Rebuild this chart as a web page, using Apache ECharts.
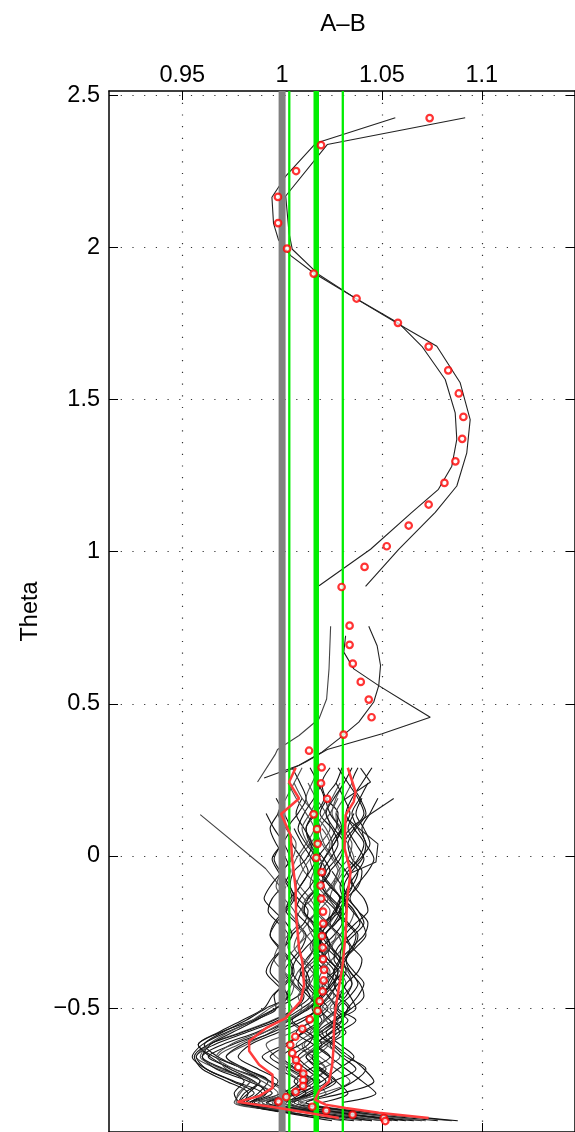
<!DOCTYPE html>
<html><head><meta charset="utf-8">
<script src="https://cdn.jsdelivr.net/npm/echarts@6/dist/echarts.min.js"></script>
<style>html,body{margin:0;padding:0;background:#fff}#c{width:575px;height:1132px}</style>
</head><body><div id="c"></div>
<script>
// ---- axes ----
const xTicks = [0.95, 1, 1.05, 1.1];
const yTicks = [-0.5, 0, 0.5, 1, 1.5, 2, 2.5];
const xRange = [0.9133, 1.1467];
const yRange = [-0.907, 2.514];

// ---- reference lines ----
const refLineX = 1.0;
const greenThinX = [1.0036, 1.0304];
const greenThickX = 1.0171;

// ---- red circles ----
const circleX = [1.0739,1.0195,1.0070,0.9979,0.9980,1.0025,1.0158,1.0373,1.0580,1.0734,
  1.0832,1.0885,1.0908,1.0902,1.0868,1.0813,1.0734,1.0634,1.0524,1.0413,
  1.0298,1.0338,1.0338,1.0354,1.0394,1.0434,1.0448,1.0308,1.0135,1.0198,
  1.0195,1.0226,1.0158,1.0175,1.0178,1.0171,1.0198,1.0193,1.0196,1.0205,
  1.0206,1.0200,1.0203,1.0205,1.0210,1.0208,1.0203,1.0188,1.0178,1.0138,
  1.0101,1.0066,1.0041,1.0051,1.0070,1.0081,1.0106,1.0106,1.0105,1.0068,
  1.0021,0.9982,1.0151,1.0221,1.0353,1.0509,1.0517];
const circleTheta = [2.425,2.336,2.251,2.166,2.080,1.996,1.914,1.832,1.752,1.674,
  1.596,1.520,1.443,1.371,1.297,1.226,1.155,1.086,1.018,0.950,
  0.884,0.757,0.694,0.632,0.572,0.514,0.456,0.399,0.346,0.291,
  0.239,0.188,0.137,0.088,0.040,-0.006,-0.053,-0.097,-0.140,-0.183,
  -0.222,-0.263,-0.301,-0.339,-0.374,-0.409,-0.445,-0.477,-0.509,-0.537,
  -0.568,-0.594,-0.621,-0.648,-0.671,-0.694,-0.715,-0.737,-0.756,-0.775,
  -0.792,-0.807,-0.824,-0.837,-0.850,-0.861,-0.871];

// ---- red envelope lines ----
const redLeftX = [1.0068,1.0035,1.0085,0.9995,1.0043,1.0050,1.0068,1.0070,1.0085,1.0101,1.0110,1.0093,1.0018,0.9919,0.9835,0.9835,0.9885,0.9952,0.9952,0.9885,0.9777,0.9985,1.0284];
const redLeftTheta = [0.290,0.243,0.189,0.138,0.068,-0.008,-0.107,-0.195,-0.303,-0.346,-0.424,-0.477,-0.533,-0.566,-0.608,-0.641,-0.686,-0.719,-0.762,-0.789,-0.808,-0.828,-0.861];
const redRightX = [1.0329,1.0368,1.0359,1.0318,1.0313,1.0343,1.0326,1.0318,1.0301,1.0284,1.0268,1.0259,1.0259,1.0251,1.0235,1.0185,1.0165,1.0218,1.0318,1.0484,1.0734];
const redRightTheta = [0.290,0.211,0.179,0.134,0.025,-0.052,-0.139,-0.260,-0.369,-0.434,-0.500,-0.566,-0.620,-0.686,-0.741,-0.773,-0.801,-0.817,-0.828,-0.844,-0.861];

// ---- upper / middle black traces: [A-B, Theta] ----
const upperTrace1 = [[1.0567,2.426],[1.0168,2.342],[1.0018,2.234],[0.9949,2.165],[0.9957,2.079],[0.9982,2.025],[1.0043,1.973],[1.0160,1.915],[1.0368,1.833],[1.0584,1.751],[1.0700,1.675],[1.0817,1.566],[1.0867,1.456],[1.0875,1.369],[1.0850,1.281],[1.0783,1.205],[1.0650,1.129],[1.0443,1.008],[1.0185,0.888]];
const upperTrace2 = [[1.0917,2.426],[1.0226,2.338],[1.0018,2.169],[1.0035,2.046],[1.0051,1.994],[1.0185,1.910],[1.0384,1.826],[1.0617,1.735],[1.0775,1.675],[1.0892,1.555],[1.0942,1.434],[1.0925,1.325],[1.0875,1.216],[1.0767,1.129],[1.0584,1.008],[1.0418,0.886]];
const midTrace1 = [[1.0243,0.755],[1.0235,0.615],[1.0223,0.516],[1.0185,0.451],[1.0085,0.396],[0.9977,0.350],[0.9965,0.333],[0.9877,0.243]];
const midTrace2 = [[1.0434,0.755],[1.0476,0.691],[1.0493,0.626],[1.0484,0.560],[1.0459,0.506],[1.0384,0.440],[1.0284,0.385],[1.0201,0.342],[1.0085,0.298],[0.9910,0.256]];
const midTrace3 = [[1.0318,0.724],[1.0309,0.670],[1.0359,0.615],[1.0484,0.560],[1.0617,0.506],[1.0742,0.456],[1.0501,0.402],[1.0226,0.350],[1.0118,0.309],[1.0000,0.270]];
const strayTrace1 = [[0.9590,0.136],[0.9917,-0.041],[0.9990,-0.100]];
const strayTrace2 = [[1.0559,0.189],[1.0359,0.101],[1.0300,0.060]];
const strayTrace3 = [[1.0330,0.120],[1.0480,0.040],[1.0470,-0.020],[1.0330,-0.060]];
const strayTrace4 = [[1.0393,0.289],[1.0443,0.243],[1.0300,0.180]];

// ---- dense traces, sampled at meshTheta ----
const meshTheta = [0.29,0.24,0.19,0.14,0.09,0.04,-0.01,-0.05,-0.10,-0.14,-0.18,-0.22,-0.26,-0.30,-0.34,-0.38,-0.42,-0.46,-0.50,-0.54,-0.58,-0.62,-0.66,-0.70,-0.74,-0.78,-0.81,-0.84,-0.87];
const meshTraces = [
[1.024,1.020,1.022,1.028,1.027,1.023,1.018,1.019,1.025,1.029,1.027,1.022,1.017,1.016,1.021,1.026,1.024,1.019,1.013,1.004,0.991,0.975,0.963,0.976,0.989,0.983,0.978,1.020,1.062],
[null,1.031,1.027,1.025,1.030,1.035,1.033,1.028,1.026,1.030,1.036,1.034,1.029,1.025,1.028,1.033,1.035,1.030,1.024,1.028,1.021,1.010,1.014,1.022,1.013,1.005,1.010,1.040,1.085],
[null,null,1.010,1.007,1.011,1.015,1.012,1.006,1.004,1.008,1.013,1.011,1.005,1.003,1.007,1.012,1.014,1.008,0.997,0.985,0.969,0.958,0.966,0.981,0.993,0.988,0.982,1.005,null],
[1.038,1.035,1.039,1.042,1.037,1.033,1.035,1.040,1.038,1.032,1.029,1.033,1.038,1.036,1.031,1.030,1.026,1.029,1.034,1.027,1.020,1.026,1.034,1.041,1.046,1.030,1.012,1.035,1.070],
[null,1.006,1.010,1.016,1.019,1.014,1.009,1.011,1.017,1.015,1.009,1.007,1.012,1.016,1.013,1.008,1.005,1.002,1.005,0.995,0.979,0.963,0.957,0.968,0.984,0.979,0.976,1.002,1.030],
[null,null,null,1.027,1.030,1.026,1.021,1.019,1.024,1.030,1.032,1.027,1.022,1.025,1.029,1.026,1.020,1.023,1.027,1.021,1.017,1.013,1.005,1.012,1.019,1.008,0.996,null,null],
[1.014,1.018,1.021,1.017,1.012,1.014,1.019,1.022,1.018,1.013,1.011,1.015,1.020,1.017,1.012,1.009,1.013,1.017,1.010,1.000,0.987,0.970,0.960,0.967,0.983,0.995,0.985,1.015,1.050],
[null,1.035,1.031,1.027,1.028,1.033,1.036,1.031,1.026,1.024,1.028,1.032,1.029,1.023,1.024,1.029,1.032,1.027,1.020,1.022,1.027,1.018,1.010,1.004,1.012,1.002,0.993,1.012,null],
[null,null,0.997,1.001,1.004,1.000,0.995,0.998,1.003,1.005,1.001,0.996,0.994,0.999,1.004,1.006,1.002,0.996,0.997,0.986,0.972,0.960,0.955,0.962,0.976,0.990,0.980,0.998,null],
[1.030,1.027,1.022,1.024,1.029,1.031,1.027,1.022,1.020,1.025,1.030,1.027,1.021,1.019,1.023,1.028,1.026,1.021,1.016,1.020,1.011,1.001,0.990,0.998,1.008,1.000,0.986,1.030,1.078],
[null,1.013,1.017,1.022,1.024,1.019,1.014,1.016,1.021,1.023,1.018,1.013,1.015,1.020,1.022,1.017,1.012,1.014,1.019,1.021,1.015,1.007,1.016,1.022,1.015,1.006,1.000,1.024,1.055],
[null,null,1.040,1.037,1.041,1.044,1.039,1.034,1.036,1.041,1.043,1.037,1.032,1.035,1.040,1.038,1.032,1.029,1.026,1.030,1.024,1.016,1.008,1.014,1.022,1.012,1.004,null,null],
[1.005,1.009,1.012,1.008,1.003,1.005,1.010,1.013,1.009,1.004,1.002,1.007,1.012,1.010,1.005,1.001,1.006,1.011,1.007,0.998,0.982,0.966,0.957,0.962,0.975,0.986,0.979,1.000,1.036],
[null,null,null,null,1.020,1.024,1.021,1.016,1.014,1.019,1.024,1.022,1.017,1.014,1.018,1.023,1.021,1.015,1.018,1.012,1.017,1.023,1.016,1.009,1.016,1.022,1.009,1.033,null],
[null,1.027,1.031,1.034,1.030,1.025,1.027,1.032,1.035,1.031,1.026,1.024,1.029,1.034,1.032,1.027,1.023,1.027,1.033,1.027,1.019,1.009,1.000,1.007,1.016,1.005,0.992,1.022,1.066],
[null,null,1.001,0.998,0.994,0.997,1.002,1.004,1.000,0.995,0.993,0.998,1.003,1.001,0.996,0.994,0.999,1.003,0.992,0.982,0.970,0.961,0.968,0.980,0.989,0.981,0.978,null,null],
[1.019,1.015,1.012,1.016,1.022,1.025,1.021,1.016,1.018,1.023,1.027,1.024,1.018,1.015,1.019,1.024,1.022,1.017,1.021,1.028,1.018,1.011,1.019,1.027,1.034,1.020,1.008,1.018,null],
[null,null,null,1.036,1.033,1.037,1.041,1.038,1.033,1.031,1.035,1.040,1.042,1.037,1.032,1.034,1.039,1.041,1.035,1.026,1.032,1.024,1.030,1.037,1.026,1.016,1.006,1.040,1.088],
[null,1.020,1.016,1.011,1.008,1.012,1.017,1.014,1.009,1.006,1.010,1.015,1.017,1.012,1.007,1.005,1.009,1.014,1.007,0.996,0.980,0.963,0.956,0.960,0.972,0.983,0.981,1.010,null],
[null,null,1.028,1.024,1.019,1.021,1.026,1.029,1.025,1.019,1.017,1.022,1.028,1.030,1.025,1.020,1.018,1.023,1.028,1.022,1.014,1.022,1.029,1.020,1.011,1.003,0.995,1.015,1.045],
[null,null,null,null,null,1.000,0.996,0.999,1.004,1.006,1.002,0.997,0.994,0.998,1.003,1.005,1.001,0.995,0.991,0.980,0.968,0.958,0.964,0.974,0.986,0.992,0.983,null,null],
[1.045,1.040,1.035,1.032,1.036,1.041,1.038,1.033,1.029,1.031,1.036,1.039,1.034,1.028,1.026,1.031,1.035,1.032,1.027,1.033,1.025,1.017,1.024,1.032,1.040,1.047,1.030,null,null],
[null,1.003,1.007,1.012,1.016,1.012,1.007,1.005,1.009,1.014,1.017,1.013,1.008,1.006,1.011,1.016,1.014,1.008,1.010,1.002,0.991,0.978,0.968,0.972,0.985,0.995,0.988,1.028,1.072],
[null,null,null,1.016,1.012,1.015,1.021,1.024,1.019,1.013,1.011,1.016,1.022,1.024,1.019,1.013,1.012,1.017,1.023,1.016,1.007,1.016,1.024,1.014,1.006,1.012,1.004,1.020,null],
[null,null,1.048,1.044,1.040,1.042,1.046,1.043,1.037,1.034,1.038,1.043,1.041,1.035,1.032,1.036,1.041,1.038,1.033,1.030,1.022,1.029,1.036,1.028,1.020,1.010,1.002,null,null],
[1.010,1.006,1.002,0.998,1.002,1.007,1.005,1.000,0.997,1.001,1.006,1.008,1.003,0.998,0.996,1.001,1.006,1.004,0.994,0.985,0.973,0.963,0.959,0.970,0.984,0.978,0.977,1.008,1.040],
[null,null,null,null,1.030,1.026,1.021,1.019,1.024,1.029,1.027,1.021,1.018,1.022,1.028,1.030,1.025,1.019,1.014,1.005,1.013,1.020,1.012,1.020,1.027,1.016,1.001,1.026,1.058],
[null,1.043,1.039,1.035,1.038,1.042,1.040,1.035,1.031,1.033,1.038,1.041,1.036,1.030,1.029,1.034,1.038,1.034,1.028,1.037,1.028,1.020,1.012,1.018,1.025,1.014,1.005,null,null],
[null,null,1.018,1.014,1.010,1.013,1.019,1.022,1.018,1.012,1.010,1.015,1.021,1.023,1.017,1.011,1.014,1.020,1.012,1.003,0.994,0.982,0.972,0.980,0.993,1.001,0.990,1.017,null],
[null,null,null,0.992,0.996,1.001,1.004,1.000,0.994,0.991,0.996,1.002,1.005,1.001,0.995,0.992,0.997,1.003,0.997,0.987,0.975,0.964,0.960,0.971,0.981,0.976,0.979,0.999,1.025],
[1.028,1.033,1.038,1.041,1.036,1.031,1.033,1.038,1.035,1.029,1.027,1.032,1.037,1.035,1.029,1.026,1.030,1.034,1.037,1.026,1.018,1.025,1.032,1.042,1.036,1.024,1.012,1.036,null],
[null,null,null,null,null,null,1.014,1.010,1.007,1.011,1.016,1.018,1.013,1.008,1.010,1.015,1.019,1.016,1.012,1.004,1.011,1.018,1.010,1.002,1.010,1.018,1.003,1.022,1.050],
[null,null,1.023,1.019,1.025,1.028,1.024,1.020,1.016,1.021,1.027,1.030,1.026,1.020,1.017,1.022,1.027,1.024,1.018,1.011,0.998,0.984,0.978,0.988,0.998,0.992,0.984,1.012,1.045],
[null,null,null,null,null,null,null,1.025,1.030,1.033,1.029,1.023,1.020,1.024,1.030,1.032,1.028,1.023,1.019,1.024,1.029,1.022,1.015,1.019,1.027,1.033,1.020,null,null],
[null,1.029,1.025,1.021,1.017,1.020,1.025,1.028,1.024,1.020,1.018,1.023,1.027,1.024,1.019,1.016,1.021,1.026,1.022,1.015,1.005,0.992,0.997,1.006,1.014,1.004,0.990,1.008,null],
[null,null,null,null,1.006,1.010,1.015,1.018,1.014,1.009,1.007,1.012,1.017,1.020,1.015,1.010,1.008,1.013,1.018,1.008,0.995,0.980,0.972,0.982,0.994,1.003,0.992,null,null],
[1.035,1.031,1.026,1.022,1.026,1.031,1.029,1.024,1.020,1.024,1.029,1.026,1.021,1.018,1.023,1.028,1.025,1.020,1.015,1.018,1.010,1.003,0.994,1.004,1.013,1.006,0.996,1.018,null],
[null,null,null,null,null,null,null,null,1.002,0.999,1.003,1.008,1.011,1.007,1.002,1.000,1.005,1.010,1.007,0.999,0.988,0.974,0.967,0.976,0.990,0.998,0.988,null,null]
];

// ---- build ----
const FONT = '"Liberation Sans", Arial, Helvetica, sans-serif';
const FS = 23.5;
const fmt = v => (v < 0 ? '\u2212' : '') + String(Math.abs(v));
const pairs = (xs, ts) => xs.map((x, i) => [x, ts[i]]);
const vline = x => [[x, yRange[0]], [x, yRange[1]]];

const series = [];
meshTraces.forEach((row, k) => {
  const d = [];
  row.forEach((x, i) => { if (x !== null) d.push([x, meshTheta[i]]); });
  series.push({type: 'line', data: d, symbol: 'none', silent: true, z: 2, smooth: 0.3,
    lineStyle: {color: (k % 3 === 1) ? '#505050' : '#141414', width: 1.1}});
});
[upperTrace1, upperTrace2, midTrace1, midTrace2, midTrace3, strayTrace1, strayTrace2, strayTrace3, strayTrace4].forEach((t, k) => {
  series.push({type: 'line', data: t, symbol: 'none', silent: true, z: 2,
    lineStyle: {color: (k === 5 || k === 2) ? '#444' : '#222', width: 1.1}});
});
series.push({type: 'line', data: vline(refLineX), symbol: 'none', silent: true, z: 3,
  lineStyle: {color: '#808080', width: 7}});
greenThinX.forEach(x => series.push({type: 'line', data: vline(x), symbol: 'none', silent: true, z: 3,
  lineStyle: {color: '#00ee00', width: 2.3}}));
series.push({type: 'line', data: vline(greenThickX), symbol: 'none', silent: true, z: 3,
  lineStyle: {color: '#00ee00', width: 5.5}});
series.push({type: 'line', data: pairs(redLeftX, redLeftTheta), symbol: 'none', silent: true, z: 4,
  lineStyle: {color: '#ff3c3c', width: 2.5}});
series.push({type: 'line', data: pairs(redRightX, redRightTheta), symbol: 'none', silent: true, z: 4,
  lineStyle: {color: '#ff3c3c', width: 2.5}});
series.push({type: 'scatter', data: pairs(circleX, circleTheta), symbol: 'circle', symbolSize: 6.5, silent: true, z: 5,
  itemStyle: {color: '#ffffff', borderColor: '#ff0000', borderWidth: 2.2}});

const labelStyle = {fontFamily: FONT, fontSize: FS, color: '#000'};
const dotted = {show: true, lineStyle: {color: '#333', width: 1.2, type: [1.2, 10.5]}};
const axLine = {show: true, onZero: false, lineStyle: {color: '#000', width: 1.5}};

const option = {
  animation: false,
  backgroundColor: '#fff',
  title: {text: 'A\u2013B', left: 343, top: 12, padding: 0, textAlign: 'center',
    textStyle: {fontFamily: FONT, fontSize: 24, fontWeight: 'normal', color: '#000'}},
  grid: {left: 109, top: 91, right: -2, bottom: -2, containLabel: false},
  xAxis: [
    {type: 'value', position: 'top', min: xRange[0], max: xRange[1], axisLine: axLine,
      axisTick: {show: true, inside: true, length: 9, customValues: xTicks, lineStyle: {color: '#000', width: 1}},
      axisLabel: Object.assign({show: true, customValues: xTicks, margin: 3, formatter: fmt}, labelStyle),
      splitLine: dotted},
    {type: 'value', position: 'bottom', min: xRange[0], max: xRange[1], axisLine: axLine,
      axisTick: {show: true, inside: true, length: 9, customValues: xTicks, lineStyle: {color: '#000', width: 1}},
      axisLabel: {show: false}, splitLine: {show: false}}
  ],
  yAxis: [
    {type: 'value', position: 'left', min: yRange[0], max: yRange[1], axisLine: axLine,
      name: 'Theta', nameLocation: 'middle', nameGap: 58,
      nameTextStyle: {fontFamily: FONT, fontSize: FS, color: '#000'},
      axisTick: {show: true, inside: true, length: 9, customValues: yTicks, lineStyle: {color: '#000', width: 1}},
      axisLabel: Object.assign({show: true, customValues: yTicks, margin: 9, formatter: fmt}, labelStyle),
      splitLine: dotted},
    {type: 'value', position: 'right', min: yRange[0], max: yRange[1], axisLine: axLine,
      axisTick: {show: true, inside: true, length: 9, customValues: yTicks, lineStyle: {color: '#000', width: 1}},
      axisLabel: {show: false}, splitLine: {show: false}}
  ],
  series: series
};
const chart = echarts.init(document.getElementById('c'));
chart.setOption(option);
</script>
</body></html>
